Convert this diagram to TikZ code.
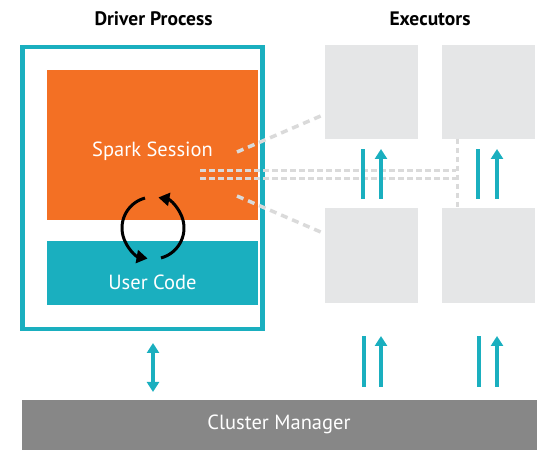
\documentclass[tikz,border=0pt]{standalone}
\usepackage{fontspec}
\setmainfont{PT Sans}
\usetikzlibrary{arrows.meta}
\definecolor{teal1}{HTML}{1AAFBF}
\definecolor{orange1}{HTML}{F37024}
\definecolor{exgrey}{HTML}{E5E6E7}
\definecolor{cmgrey}{HTML}{878787}
\definecolor{dashgrey}{HTML}{DADADA}
\begin{document}
\begin{tikzpicture}[x=1pt,y=1pt,
  title/.style={font=\fontsize{19.5}{21}\selectfont\bfseries, text=black, anchor=base, inner sep=0pt},
  whitetext/.style={font=\fontsize{20.5}{22}\selectfont, text=white, anchor=base, inner sep=0pt},
  exbox/.style={fill=exgrey, draw=none},
  tealarrow/.style={draw=teal1, line width=4pt, -{Triangle[length=10pt,width=12pt]}},
  tealbar/.style={draw=teal1, line width=4pt},
  tealdouble/.style={draw=teal1, line width=4pt, {Triangle[length=10pt,width=12pt]}-{Triangle[length=10pt,width=12pt]}},
  diagdash/.style={draw=dashgrey, line width=3.5pt, dash pattern=on 7pt off 5pt},
  hdash/.style={draw=dashgrey, line width=3pt, dash pattern=on 5.5pt off 3.5pt},
  cyclearrow/.style={draw=black, line width=3pt, -{Triangle[length=11pt,width=13pt]}}
]
\useasboundingbox (0,0) rectangle (560,457);
% titles
\node[title] (dtitle) at (153.5,431) {Driver Process};
\node[title] (etitle) at (430,431) {Executors};
% driver box
\draw[draw=teal1, line width=4.5pt] (22.5,410) rectangle (262.5,128);
\node[fill=orange1, minimum width=211pt, minimum height=150pt, inner sep=0pt, anchor=south west] (spark) at (47,237) {};
\node[whitetext] (sparktext) at (152.5,300) {Spark Session};
\node[fill=teal1, minimum width=211pt, minimum height=64pt, inner sep=0pt, anchor=south west] (user) at (47,152) {};
\node[whitetext] (usertext) at (152.5,167) {User Code};
% executors
\node[exbox, minimum width=93pt, minimum height=94pt, inner sep=0pt, anchor=south west] (e1) at (325,318) {};
\node[exbox, minimum width=93pt, minimum height=94pt, inner sep=0pt, anchor=south west] (e2) at (442,318) {};
\node[exbox, minimum width=93pt, minimum height=95pt, inner sep=0pt, anchor=south west] (e3) at (325,154) {};
\node[exbox, minimum width=93pt, minimum height=95pt, inner sep=0pt, anchor=south west] (e4) at (442,154) {};
% cluster manager
\node[fill=cmgrey, minimum width=515pt, minimum height=50pt, inner sep=0pt, anchor=south west] (cm) at (22,7) {};
\node[whitetext] (cmtext) at (279,27) {Cluster Manager};
% dashed links
\coordinate (d1a) at (237,305); \coordinate (d1b) at (323,342);
\coordinate (d2a) at (237,261); \coordinate (d2b) at (323,224);
\coordinate (h1a) at (200,286); \coordinate (h1b) at (456,286);
\coordinate (h2a) at (200,278); \coordinate (h2b) at (456,278);
\coordinate (va) at (457,318); \coordinate (vb) at (457,249);
\draw[diagdash] (d1a) -- (d1b);
\draw[diagdash] (d2a) -- (d2b);
\draw[hdash] (h1a) -- (h1b);
\draw[hdash] (h2a) -- (h2b);
\draw[hdash] (va) -- (vb);
% cycle
\coordinate (cc) at (153,229);
\draw[cyclearrow] ([shift={(-75:31)}]cc) arc[start angle=-75, end angle=80, radius=31];
\draw[cyclearrow] ([shift={(105:31)}]cc) arc[start angle=105, end angle=260, radius=31];
% teal arrows middle
\coordinate (m1b1) at (363,258); \coordinate (m1b2) at (363,308);
\coordinate (m1a1) at (381,258); \coordinate (m1a2) at (381,308);
\coordinate (m2b1) at (478,258); \coordinate (m2b2) at (478,308);
\coordinate (m2a1) at (497,258); \coordinate (m2a2) at (497,308);
\draw[tealbar] (m1b1) -- (m1b2);
\draw[tealarrow] (m1a1) -- (m1a2);
\draw[tealbar] (m2b1) -- (m2b2);
\draw[tealarrow] (m2a1) -- (m2a2);
% teal arrows bottom
\coordinate (b1b1) at (364,70); \coordinate (b1b2) at (364,121);
\coordinate (b1a1) at (381,70); \coordinate (b1a2) at (381,121);
\coordinate (b2b1) at (479,70); \coordinate (b2b2) at (479,121);
\coordinate (b2a1) at (497,70); \coordinate (b2a2) at (497,121);
\draw[tealbar] (b1b1) -- (b1b2);
\draw[tealarrow] (b1a1) -- (b1a2);
\draw[tealbar] (b2b1) -- (b2b2);
\draw[tealarrow] (b2a1) -- (b2a2);
% double arrow
\coordinate (da) at (153,65); \coordinate (db) at (153,114);
\draw[tealdouble] (da) -- (db);
\end{tikzpicture}
\end{document}
